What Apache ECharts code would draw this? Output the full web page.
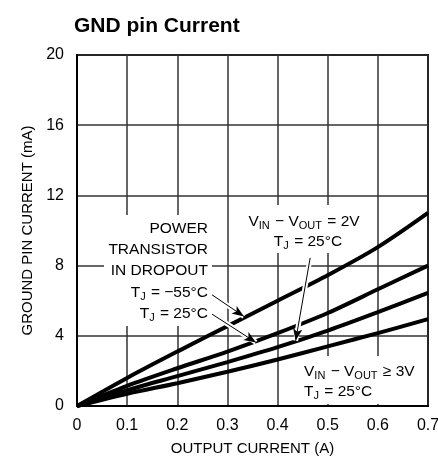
<!DOCTYPE html>
<html>
<head>
<meta charset="utf-8">
<script src="https://cdn.jsdelivr.net/npm/echarts@6/dist/echarts.min.js"></script>
<style>
  html, body { margin: 0; background: #fff; }
  #chart { width: 438px; height: 458px; }
</style>
</head>
<body>
<div id="chart"></div>
<script>
// output current (A)
const outputCurrent = [0, 0.1, 0.2, 0.3, 0.4, 0.5, 0.6, 0.7];
// ground pin current (mA)
const dropoutMinus55 = [0, 1.6, 3.1, 4.55, 6.0, 7.45, 9.05, 11.0];
const dropout25 = [0, 1.15, 2.15, 3.1, 4.15, 5.3, 6.65, 8.0];
const headroom2V = [0, 0.9, 1.7, 2.5, 3.35, 4.3, 5.35, 6.45];
const headroom3V = [0, 0.7, 1.3, 1.95, 2.65, 3.4, 4.15, 4.95];

const FONT = '"Liberation Sans", Arial, sans-serif';

const pairs = ys => outputCurrent.map((x, i) => [x, ys[i]]);

const curve = (name, ys) => ({
  name: name,
  type: 'line',
  data: pairs(ys),
  smooth: 0.3,
  showSymbol: false,
  lineStyle: { color: '#000', width: 4 },
  z: 3
});

// annotation arrows, in data coordinates
const arrows = [
  [{ coord: [0.269, 6.34] }, { coord: [0.333, 5.1] }],
  [{ coord: [0.269, 5.24] }, { coord: [0.357, 3.62] }],
  [{ coord: [0.465, 8.44] }, { coord: [0.436, 3.72] }]
];

const rich = {
  n: { fontSize: 15.5, fontFamily: FONT, color: '#000', lineHeight: 18 },
  s: { fontSize: 11, fontFamily: FONT, color: '#000', lineHeight: 18, padding: [8, 1, 0, 0] }
};

const label = (x, y, text, align) => ({
  type: 'text',
  x: x,
  y: y,
  z: 7,
  style: {
    text: text,
    rich: rich,
    font: '15.5px ' + FONT,
    fill: '#000',
    align: align,
    verticalAlign: 'middle'
  }
});

const blank = (x, y, w, h) => ({
  type: 'rect',
  z: 6,
  shape: { x: x, y: y, width: w, height: h },
  style: { fill: '#fff' }
});

const chart = echarts.init(document.getElementById('chart'));
chart.setOption({
  animation: false,
  backgroundColor: '#fff',
  title: {
    text: 'GND pin Current',
    left: 74,
    top: 16,
    padding: 0,
    textStyle: { fontFamily: FONT, fontSize: 21, fontWeight: 'bold', color: '#000' }
  },
  grid: {
    left: 77, top: 55, right: 10, bottom: 52,
    outerBoundsMode: 'none',
    show: true, borderColor: '#000', borderWidth: 2
  },
  xAxis: {
    type: 'value',
    min: 0, max: 0.7, interval: 0.1,
    name: 'OUTPUT CURRENT (A)',
    nameLocation: 'middle',
    nameGap: 35,
    nameTextStyle: { fontFamily: FONT, fontSize: 15, color: '#000' },
    axisLine: { show: true, lineStyle: { color: '#000', width: 2 } },
    axisTick: { show: false },
    axisLabel: {
      fontFamily: FONT, fontSize: 16, color: '#000', margin: 12,
      formatter: v => v === 0 ? '0' : v.toFixed(1)
    },
    splitLine: { show: true, lineStyle: { color: '#333', width: 1.5 } }
  },
  yAxis: {
    type: 'value',
    min: 0, max: 20, interval: 4,
    name: 'GROUND PIN CURRENT (mA)',
    nameLocation: 'middle',
    nameGap: 40,
    nameTextStyle: { fontFamily: FONT, fontSize: 15, color: '#000' },
    axisLine: { show: true, lineStyle: { color: '#000', width: 2 } },
    axisTick: { show: false },
    axisLabel: { fontFamily: FONT, fontSize: 16, color: '#000', margin: 13 },
    splitLine: { show: true, lineStyle: { color: '#333', width: 1.5 } }
  },
  series: [
    curve('TJ = -55°C dropout', dropoutMinus55),
    curve('TJ = 25°C dropout', dropout25),
    curve('VIN - VOUT = 2V', headroom2V),
    curve('VIN - VOUT >= 3V', headroom3V),
    {
      type: 'line',
      data: [],
      z: 4,
      markLine: {
        silent: true,
        symbol: ['none', 'none'],
        label: { show: false },
        lineStyle: { color: '#fff', width: 5, type: 'solid' },
        data: arrows
      }
    },
    {
      type: 'line',
      data: [],
      z: 5,
      markLine: {
        silent: true,
        symbol: ['none', 'arrow'],
        symbolSize: [7, 12],
        label: { show: false },
        lineStyle: { color: '#000', width: 1, type: 'solid' },
        data: arrows
      }
    }
  ],
  graphic: [
    blank(104, 215, 108, 111),
    blank(243, 205, 119, 48),
    blank(300, 356, 127, 48),
    label(208, 229, 'POWER', 'right'),
    label(208, 250, 'TRANSISTOR', 'right'),
    label(208, 271, 'IN DROPOUT', 'right'),
    label(208, 293, '{n|T}{s|J}{n| = −55°C}', 'right'),
    label(208, 314, '{n|T}{s|J}{n| = 25°C}', 'right'),
    label(304, 222, '{n|V}{s|IN}{n| − V}{s|OUT}{n| = 2V}', 'center'),
    label(308, 242, '{n|T}{s|J}{n| = 25°C}', 'center'),
    label(304, 372, '{n|V}{s|IN}{n| − V}{s|OUT}{n| ≥ 3V}', 'left'),
    label(304, 392, '{n|T}{s|J}{n| = 25°C}', 'left')
  ]
});
</script>
</body>
</html>
